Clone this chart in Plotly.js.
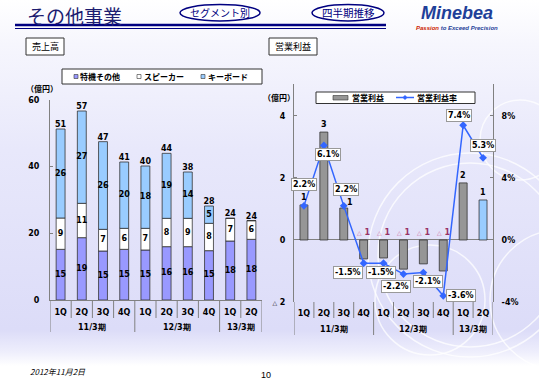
<!DOCTYPE html>
<html><head><meta charset="utf-8">
<script src="https://cdn.plot.ly/plotly-3.0.1.min.js"></script>
<style>
html,body{margin:0;padding:0;}
body{width:539px;height:380px;overflow:hidden;
background:linear-gradient(to bottom,#ffffff 0px,#f6f6fd 45px,#e8e8fb 150px,#dcdcf8 330px,#eeeefc 352px,#ffffff 366px,#ffffff 380px);}
#chart{width:539px;height:380px;}
</style></head><body><div id="chart"></div>
<script>
// ---- data ----
const quarters = ['1Q','2Q','3Q','4Q','1Q','2Q','3Q','4Q','1Q','2Q'];
const periods = ['11/3期','12/3期','13/3期'];
const periodQuarterCounts = [4,4,2];
const segmentNames = ['特機その他','スピーカー','キーボード'];
const salesOther    = [15.2,18.7,14.7,15.2,15.0,16.0,16.0,14.8,17.7,18.2];
const salesSpeaker  = [9.4,10.3,6.5,6.3,6.5,8.5,8.5,8.2,6.8,5.6];
const salesKeyboard = [26.7,27.7,26.3,19.9,18.7,19.5,13.9,5.2,0,0];
const salesOtherLabels    = ['15','19','15','15','15','16','16','15','18','18'];
const salesSpeakerLabels  = ['9','11','7','6','7','8','9','8','7','6'];
const salesKeyboardLabels = ['26','27','26','20','18','19','14','5','',''];
const salesTotalLabels    = ['51','57','47','41','40','44','38','28','24','24'];
const profitNames = ['営業利益','営業利益率'];
const opProfit = [1.13,3.48,1.03,-0.61,-0.58,-0.94,-0.77,-1.00,1.84,1.29];
const opProfitLabels = ['1','3','1','△1','△1','△1','△1','△1','2','1'];
const opMargin = [2.2,6.1,2.2,-1.5,-1.5,-2.2,-2.1,-3.6,7.4,5.3];
const opMarginLabels = ['2.2%','6.1%','2.2%','-1.5%','-1.5%','-2.2%','-2.1%','-3.6%','7.4%','5.3%'];

// ---- style helpers ----
const W = 539, H = 380;
const px = x => x / W, py = y => 1 - y / H;
const NUM = 'DejaVu Sans, Verdana, sans-serif';
const JP = 'Noto Sans CJK JP, sans-serif';
const idx = quarters.map((_, i) => i);
const marginLabelShift = [[0,21],[4,-9],[2,16],[-16,-9],[-3,-9],[-7,-12],[5,-9],[18,0],[-4,10],[0,12]];
const profitLabelShift = [[0,0],[0,0],[6,-2],[0,0],[0,0],[0,0],[0,0],[0,0],[0,0],[0,0]];
const segColors = ['#9999ff','#ffffff','#99ccff'];
const profitColor = '#969696', lastProfitColor = '#99ccff', marginColor = '#3366ff';

const cum1 = salesOther;
const cum2 = salesOther.map((v, i) => v + salesSpeaker[i]);
const cum3 = cum2.map((v, i) => v + salesKeyboard[i]);

const barLine = {color: '#333333', width: 0.8};
const numFont = {family:NUM, size:8, weight:'bold', color:'#000'};
const traces = [
  {type:'bar', name: segmentNames[0], x: idx, y: salesOther, width: 0.42,
   marker:{color:segColors[0], line: barLine}, xaxis:'x', yaxis:'y', hoverinfo:'skip'},
  {type:'bar', name: segmentNames[1], x: idx, y: salesSpeaker, width: 0.42,
   marker:{color:segColors[1], line: barLine}, xaxis:'x', yaxis:'y', hoverinfo:'skip'},
  {type:'bar', name: segmentNames[2], x: idx, y: salesKeyboard, width: 0.42,
   marker:{color:segColors[2], line: barLine}, xaxis:'x', yaxis:'y', hoverinfo:'skip'},
  {type:'scatter', mode:'text', hoverinfo:'skip', xaxis:'x', yaxis:'y',
   x: idx.concat(idx, idx),
   y: salesOther.map(v => v/2).concat(cum1.map((v,i)=> v + salesSpeaker[i]/2), cum2.map((v,i)=> v + salesKeyboard[i]/2)),
   text: salesOtherLabels.concat(salesSpeakerLabels, salesKeyboardLabels),
   textposition:'middle center', textfont:numFont},
  {type:'scatter', mode:'text', hoverinfo:'skip', xaxis:'x', yaxis:'y',
   x: idx, y: cum3, text: salesTotalLabels, textposition:'top center', textfont:numFont},
  {type:'bar', name: profitNames[0], x: idx, y: opProfit, width: 0.4,
   marker:{color: idx.map(i => i === idx.length - 1 ? lastProfitColor : profitColor), line: barLine},
   xaxis:'x2', yaxis:'y2', hoverinfo:'skip'},
  {type:'scatter', mode:'lines+markers', name: profitNames[1], x: idx, y: opMargin,
   line:{color:marginColor, width:1.5}, marker:{symbol:'diamond', size:6, color:marginColor},
   xaxis:'x2', yaxis:'y3', hoverinfo:'skip'}
];

const annotations = [];
const shapes = [];
const txt = (text, x, y, size, opts) => annotations.push(Object.assign({
  text, x: px(x), y: py(y), xref:'paper', yref:'paper', showarrow:false, xanchor:'center', yanchor:'middle',
  font:{family: JP, size, color:'#000'}}, opts || {}));
const rect = (x0, y0, x1, y1, fill, line) => shapes.push({type:'rect', xref:'paper', yref:'paper',
  x0: px(x0), x1: px(x1), y0: py(y1), y1: py(y0), fillcolor: fill, line: line || {width:0}});

// percent labels
opMargin.forEach((v, i) => annotations.push({
  text: opMarginLabels[i], x: i, y: v, xref:'x2', yref:'y3', showarrow:false, xanchor:'center', yanchor:'middle',
  xshift: marginLabelShift[i][0], yshift: marginLabelShift[i][1],
  bgcolor:'#ffffff', bordercolor:'#999999', borderwidth:1, borderpad:1, font:numFont}));
// profit labels
opProfit.forEach((v, i) => {
  const neg = v < 0;
  annotations.push({
    text: neg ? '<span style="font-size:6px;color:#cc6699">△</span><span style="color:#993366"> ' + opProfitLabels[i].replace('△','') + '</span>' : opProfitLabels[i],
    x: i, y: neg ? 0 : v, xref:'x2', yref:'y2', showarrow:false, xanchor:'center', yanchor:'bottom',
    xshift: profitLabelShift[i][0], yshift: 1 + profitLabelShift[i][1], font:numFont});
});

// dividers and group labels
let start = 0;
const groupEdges = [0];
periodQuarterCounts.forEach((n, g) => {
  const c = start + (n - 1) / 2;
  annotations.push({text: periods[g], x: c, y: py(327), xref:'x', yref:'paper', showarrow:false,
    xanchor:'center', yanchor:'middle', font:numFont});
  annotations.push({text: periods[g], x: c, y: py(329), xref:'x2', yref:'paper', showarrow:false,
    xanchor:'center', yanchor:'middle', font:numFont});
  start += n; groupEdges.push(start);
});
for (let b = 0; b <= quarters.length; b++) {
  const isGroup = groupEdges.includes(b);
  shapes.push({type:'line', xref:'x', yref:'paper', x0: b-0.5, x1: b-0.5, y0: py(300), y1: py(isGroup ? 332 : 318),
    line:{color:'#808080', width:1}});
  shapes.push({type:'line', xref:'x2', yref:'paper', x0: b-0.5, x1: b-0.5, y0: py(302), y1: py(isGroup ? 335 : 318),
    line:{color:'#808080', width:1}});
}

// decorative circles
[[470,255,92],[470,255,102],[520,140,40],[430,300,55],[560,300,70]].forEach(c => shapes.push({
  type:'circle', xref:'paper', yref:'paper', layer:'below',
  x0: px(c[0]-c[2]), x1: px(c[0]+c[2]), y0: py(c[1]+c[2]), y1: py(c[1]-c[2]),
  line:{color:'rgba(255,255,255,0.75)', width:1.5}}));

// legends (drawn manually to match compact swatches)
rect(62, 69, 262, 84, '#ffffff', {color:'#333333', width:1});
const legFont = {family:JP, size:8, weight:'bold', color:'#000'};
[[74,78],[137,142],[201,206]].forEach((p, k) => {
  rect(p[0], 74.5, p[0]+4, 78.5, segColors[k], {color:'#333333', width:0.6});
  txt(segmentNames[k], p[1], 76.5, 8, {xanchor:'left', font:legFont});
});
rect(316, 92, 475, 103.5, '#ffffff', {color:'#333333', width:1});
rect(333, 95.5, 348, 100, profitColor, {color:'#333333', width:0.6});
txt(profitNames[0], 350, 97.5, 8, {xanchor:'left', font:legFont});
shapes.push({type:'line', xref:'paper', yref:'paper', x0: px(396), x1: px(414), y0: py(97.5), y1: py(97.5), line:{color:marginColor, width:1.5}});
shapes.push({type:'path', xref:'paper', yref:'paper',
  path:`M ${px(402.5)} ${py(97.5)} L ${px(405)} ${py(95)} L ${px(407.5)} ${py(97.5)} L ${px(405)} ${py(100)} Z`,
  fillcolor:marginColor, line:{width:0}});
txt(profitNames[1], 415, 97.5, 8, {xanchor:'left', font:legFont});

// header
txt('その他事業', 25, 15, 19, {xanchor:'left', font:{family:JP, size:19, color:'#1c1c70'}});
shapes.push({type:'line', xref:'paper', yref:'paper', x0: px(15), x1: px(386), y0: py(25), y1: py(25), line:{color:'#000080', width:2.5}});
shapes.push({type:'line', xref:'paper', yref:'paper', x0: px(15), x1: px(386), y0: py(28.5), y1: py(28.5), line:{color:'#000080', width:1}});
shapes.push({type:'circle', xref:'paper', yref:'paper', x0: px(180), x1: px(260), y0: py(21), y1: py(4.5), fillcolor:'#ffffff', line:{color:'#000080', width:1.5}});
shapes.push({type:'circle', xref:'paper', yref:'paper', x0: px(312), x1: px(384), y0: py(21), y1: py(4.5), fillcolor:'#ffffff', line:{color:'#000080', width:1.5}});
txt('セグメント別', 220, 13, 10, {font:{family:JP, size:10, color:'#000080'}});
txt('四半期推移', 348, 13, 10.5, {font:{family:JP, size:10.5, color:'#000080'}});
txt('<i><b>Minebea</b></i>', 457, 13.5, 18, {font:{family:'Liberation Sans, Arial, sans-serif', size:18, color:'#1f3f99'}});
txt('<i><b><span style="color:#cc2200">Passion</span> to Exceed Precision</b></i>', 457, 27.5, 6, {font:{family:'Liberation Sans, Arial, sans-serif', size:6, color:'#1f3f99'}});
// section boxes
rect(26, 38, 64, 55, '#ffffff', {color:'#333333', width:1});
rect(269, 38, 317, 55, '#ffffff', {color:'#333333', width:1});
txt('売上高', 45, 46.5, 9);
txt('営業利益', 293, 46.5, 9);
// units
txt('（億円）', 42, 89, 8, {font:legFont});
txt('（億円）', 279, 97, 8, {font:legFont});
// footer
txt('<i>2012年11月2日</i>', 28, 371, 8, {xanchor:'left', font:{family:JP, size:8, color:'#000'}});
txt('10', 266, 375, 9, {font:{family:'Liberation Sans, Arial, sans-serif', size:9, color:'#000'}});

const tickFont = numFont;
const xBase = {range:[-0.5, quarters.length - 0.5], tickvals: idx, ticktext: quarters, showgrid:false, zeroline:false,
  ticks:'', tickfont: tickFont, fixedrange:true};
const layout = {
  width: W, height: H, margin:{l:0, r:0, t:0, b:0},
  paper_bgcolor:'rgba(0,0,0,0)', plot_bgcolor:'rgba(0,0,0,0)',
  barmode:'relative', bargap:0.5, showlegend:false,
  xaxis: Object.assign({}, xBase, {domain:[px(50), px(262)], anchor:'y', showline:true, linecolor:'#808080', linewidth:1, ticklabelstandoff:4}),
  yaxis: {domain:[py(300), py(100)], range:[0,60], tickvals:[0,20,40,60], anchor:'x', showgrid:false, zeroline:false,
    showline:true, linecolor:'#808080', linewidth:1, ticks:'inside', ticklen:3, tickcolor:'#808080', tickfont: tickFont, ticklabelstandoff:8},
  xaxis2: Object.assign({}, xBase, {domain:[px(294), px(493)], anchor:'y2', showline:false, ticklabelstandoff:5}),
  yaxis2: {domain:[py(302), py(84)], range:[-2,5.03], tickvals:[-2,0,2,4],
    ticktext:['<span style="font-size:6px">△</span> 2','0','2','4'], anchor:'x2', showgrid:false,
    zeroline:true, zerolinecolor:'#808080', zerolinewidth:1,
    showline:true, linecolor:'#808080', linewidth:1, ticks:'inside', ticklen:3, tickcolor:'#808080', tickfont: tickFont, ticklabelstandoff:6},
  yaxis3: {overlaying:'y2', side:'right', anchor:'x2', range:[-4,10.06], tickvals:[-4,0,4,8], ticktext:['-4%','0%','4%','8%'],
    showgrid:false, zeroline:false, showline:true, linecolor:'#808080', linewidth:1, ticks:'inside', ticklen:3, tickcolor:'#808080',
    tickfont: tickFont, ticklabelstandoff:6},
  annotations, shapes
};
Plotly.newPlot('chart', traces, layout, {staticPlot:true, displayModeBar:false});
</script></body></html>
